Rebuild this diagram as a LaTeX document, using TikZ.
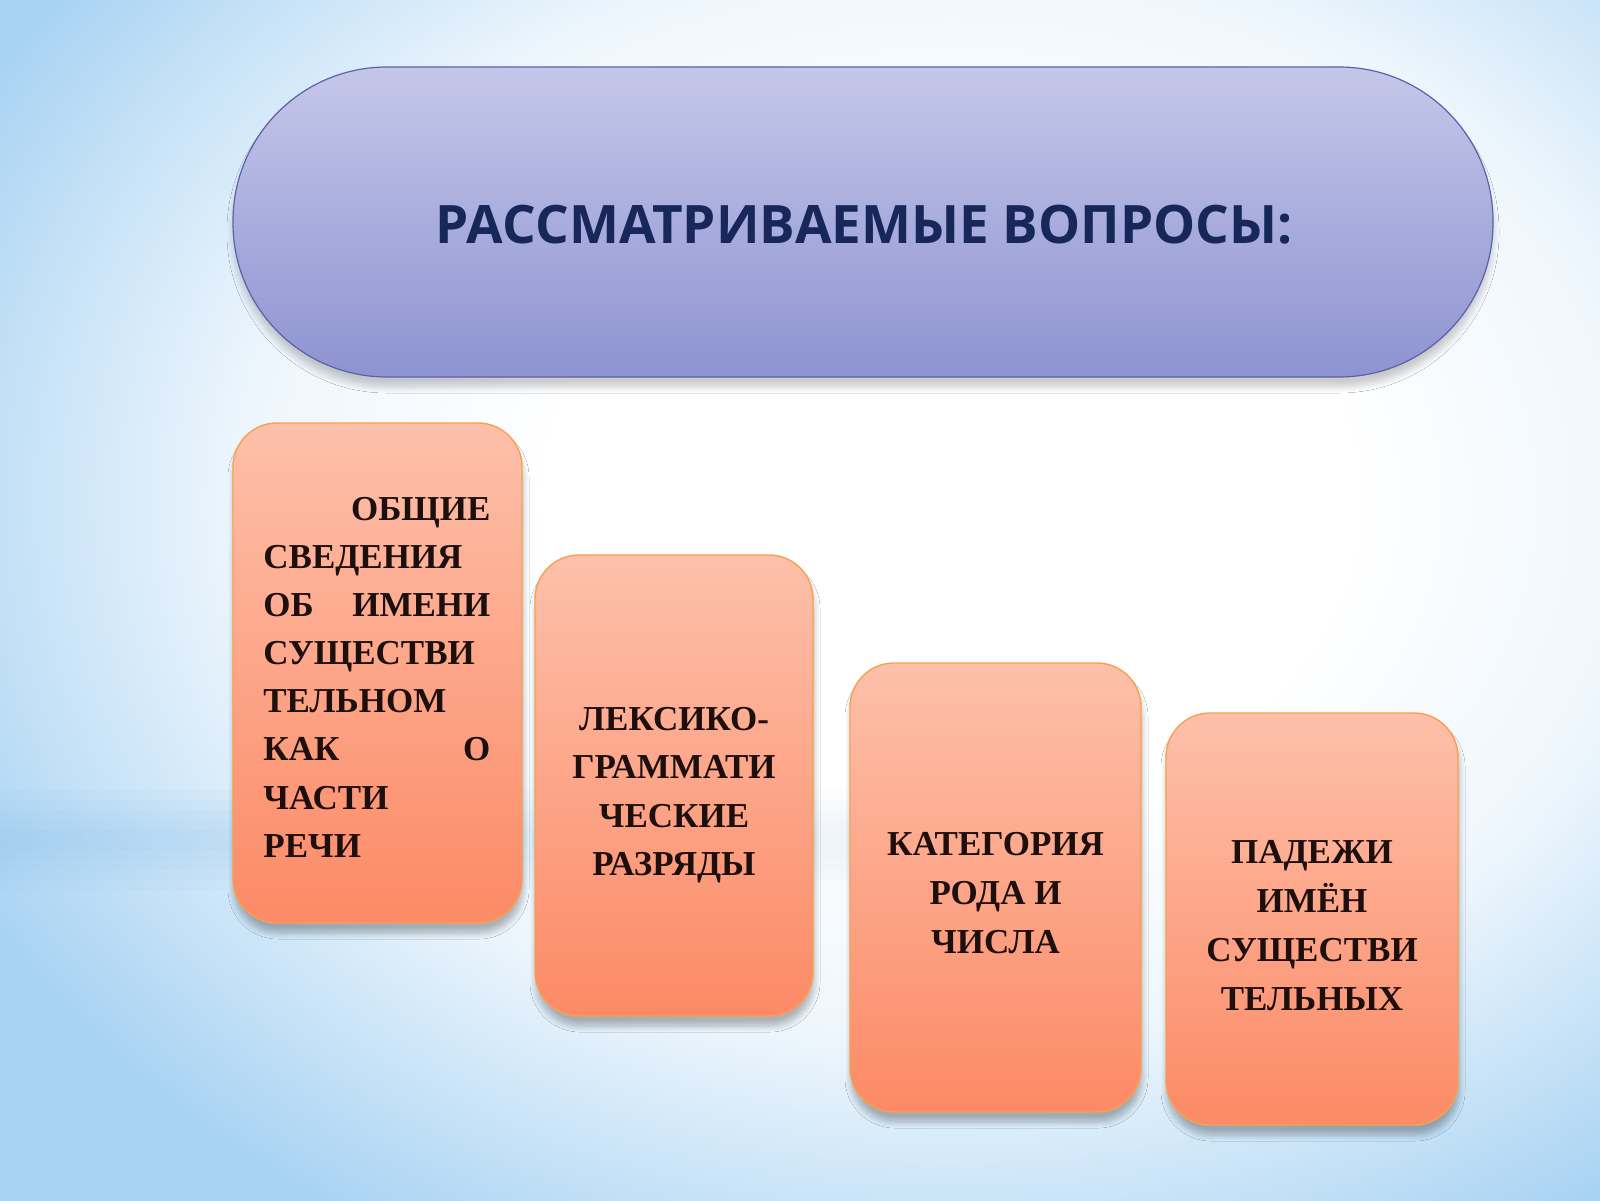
\documentclass[tikz,border=0pt]{standalone}
\usepackage{fontspec}
\setmainfont{Liberation Serif}
\newfontfamily\titlefont{Open Sans}
\usetikzlibrary{shadows.blur,fadings}
\definecolor{bgblue}{HTML}{A9D3F3}
\definecolor{bandblue}{HTML}{8EC3EE}
\definecolor{pilltop}{HTML}{C5C7E9}
\definecolor{pillmid}{HTML}{B1B4E0}
\definecolor{pillbot}{HTML}{8D93D1}
\definecolor{pillline}{HTML}{5B61A8}
\definecolor{boxtop}{HTML}{FDC0AA}
\definecolor{boxbot}{HTML}{FC8A66}
\definecolor{boxline}{HTML}{F8A050}
\definecolor{boxtext}{HTML}{1E0F0F}
\definecolor{titletext}{HTML}{17275A}
\pgfdeclareradialshading{glow}{\pgfpoint{0bp}{0bp}}{%
  color(0bp)=(white); color(9bp)=(white); color(16bp)=(white!80!bgblue);
  color(25bp)=(bgblue); color(50bp)=(bgblue)}
\tikzset{
  card/.style={draw=boxline, line width=0.7pt, rounded corners=22pt,
    top color=boxtop, bottom color=boxbot, inner sep=0pt,
    blur shadow={shadow xshift=0.5pt, shadow yshift=-5pt, shadow blur radius=3pt, shadow opacity=28, shadow blur steps=8}},
  pill/.style={draw=pillline, line width=0.6pt, rounded corners=77pt,
    top color=pilltop, middle color=pillmid, bottom color=pillbot, inner sep=0pt,
    blur shadow={shadow xshift=0pt, shadow yshift=-5pt, shadow blur radius=3pt, shadow opacity=20, shadow blur steps=8}},
  cardtext/.style={font=\fontsize{17.5pt}{24pt}\selectfont\bfseries, text=boxtext, inner sep=0pt},
  titletxt/.style={font=\titlefont\fontsize{26.5pt}{30pt}\selectfont\bfseries, text=titletext, inner sep=0pt},
  bandstrip/.style={bandblue, path fading=east, fill opacity=0.08}
}
\begin{document}
\begin{tikzpicture}[x=0.5pt,y=-0.5pt]
\useasboundingbox (0,0) rectangle (1600,1200);
% background
\begin{scope}
\clip (0,0) rectangle (1600,1200);
\fill[bgblue] (0,0) rectangle (1600,1200);
\shade[shading=glow] (-150,-350) rectangle (2050,1350);
\fill[bandstrip] (0,830) rectangle (1100,850);
\fill[bandstrip] (0,820) rectangle (1100,860);
\fill[bandstrip] (0,810) rectangle (1100,870);
\fill[bandstrip] (0,800) rectangle (1100,880);
\fill[bandstrip] (0,790) rectangle (1100,890);
\end{scope}
% title pill
\node[pill, minimum width=630pt, minimum height=155pt] (title) at (863,222) {};
\node[titletxt, anchor=base] (titlelabel) at (864,243) {РАССМАТРИВАЕМЫЕ ВОПРОСЫ:};
% cards
\node[card, minimum width=144.5pt, minimum height=250pt] (c1) at (377.5,673) {};
\node[card, minimum width=139pt, minimum height=230.5pt] (c2) at (674,785.5) {};
\node[card, minimum width=145.5pt, minimum height=224.5pt] (c3) at (995.5,887.5) {};
\node[card, minimum width=146pt, minimum height=206pt] (c4) at (1312,919) {};
% card 1 text (justified)
\node[cardtext, anchor=base west] (c1a) at (263,520) {\makebox[113.5pt][r]{ОБЩИЕ}};
\node[cardtext, anchor=base west] (c1b) at (263,568) {СВЕДЕНИЯ};
\node[cardtext, anchor=base west] (c1c) at (263,616) {\makebox[113.5pt][s]{ОБ\hfill ИМЕНИ}};
\node[cardtext, anchor=base west] (c1d) at (263,664) {СУЩЕСТВИ};
\node[cardtext, anchor=base west] (c1e) at (263,712) {ТЕЛЬНОМ};
\node[cardtext, anchor=base west] (c1f) at (263,760) {\makebox[113.5pt][s]{КАК\hfill О}};
\node[cardtext, anchor=base west] (c1g) at (263,809) {ЧАСТИ};
\node[cardtext, anchor=base west] (c1h) at (263,857) {РЕЧИ};
% card 2 text
\node[cardtext, anchor=base] (c2a) at (674,730) {ЛЕКСИКО-};
\node[cardtext, anchor=base] (c2b) at (674,778) {ГРАММАТИ};
\node[cardtext, anchor=base] (c2c) at (674,827) {ЧЕСКИЕ};
\node[cardtext, anchor=base] (c2d) at (674,875) {РАЗРЯДЫ};
% card 3 text
\node[cardtext, anchor=base] (c3a) at (995.5,855) {КАТЕГОРИЯ};
\node[cardtext, anchor=base] (c3b) at (995.5,904) {РОДА И};
\node[cardtext, anchor=base] (c3c) at (995.5,953) {ЧИСЛА};
% card 4 text
\node[cardtext, anchor=base] (c4a) at (1312,863) {ПАДЕЖИ};
\node[cardtext, anchor=base] (c4b) at (1312,912) {ИМЁН};
\node[cardtext, anchor=base] (c4c) at (1312,961) {СУЩЕСТВИ};
\node[cardtext, anchor=base] (c4d) at (1312,1010) {ТЕЛЬНЫХ};
\end{tikzpicture}
\end{document}
